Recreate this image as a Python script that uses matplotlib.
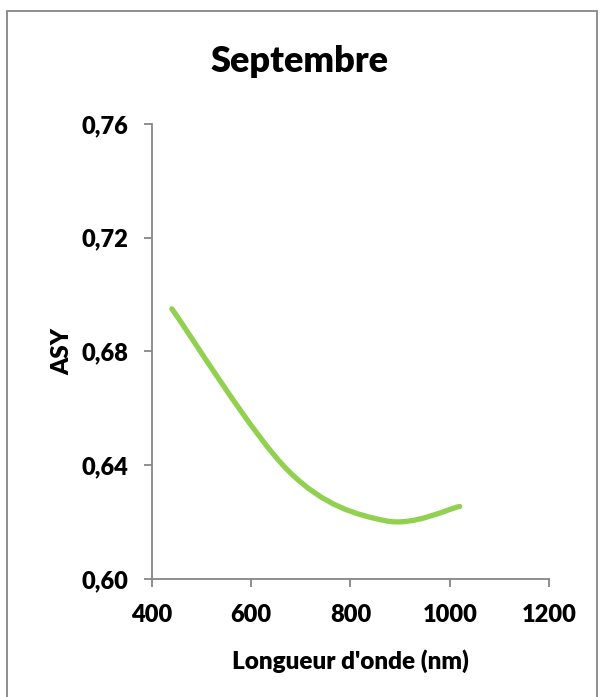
import numpy as np
import matplotlib
matplotlib.use('Agg')
import matplotlib.pyplot as plt
from matplotlib.path import Path
from matplotlib.patches import PathPatch, Rectangle

plt.rcParams['font.family'] = ['Lato', 'DejaVu Sans']
poids = 800  # gras épais, proche du Calibri gras

# données
longueur_onde = [440, 675, 870, 1020]
asy = [0.695, 0.638, 0.6205, 0.6255]

titre = 'Septembre'
x_ticks = [400, 600, 800, 1000, 1200]
x_labels = ['400', '600', '800', '1000', '1200']
y_ticks = [0.60, 0.64, 0.68, 0.72, 0.76]
y_labels = ['0,60', '0,64', '0,68', '0,72', '0,76']

gris = '#868686'
vert = '#92D050'

fig = plt.figure(figsize=(6, 6.97), dpi=100)
ax = fig.add_axes([0.2533, 0.1693, 0.6617, 0.6528])

# courbe lissée façon Excel (Bézier / Catmull-Rom)
pts = np.column_stack([longueur_onde, asy])
n = len(pts)
verts = [tuple(pts[0])]
codes = [Path.MOVETO]
for i in range(n - 1):
    p0 = pts[max(i - 1, 0)]
    p1 = pts[i]
    p2 = pts[i + 1]
    p3 = pts[min(i + 2, n - 1)]
    c1 = p1 + (p2 - p0) / 6
    c2 = p2 - (p3 - p1) / 6
    verts += [tuple(c1), tuple(c2), tuple(p2)]
    codes += [Path.CURVE4] * 3
ax.add_patch(PathPatch(Path(verts, codes), facecolor='none', edgecolor=vert,
                       lw=3.8, capstyle='round', joinstyle='round'))

ax.set_xlim(400, 1200)
ax.set_ylim(0.60, 0.76)
ax.set_xticks(x_ticks)
ax.set_yticks(y_ticks)
ax.set_xticklabels(x_labels, fontsize=17, fontweight=poids)
ax.set_yticklabels(y_labels, fontsize=17, fontweight=poids)

for s in ['top', 'right']:
    ax.spines[s].set_visible(False)
for s in ['left', 'bottom']:
    ax.spines[s].set_color(gris)
    ax.spines[s].set_linewidth(1.3)
ax.tick_params(direction='out', length=6, width=1.3, color=gris,
               labelcolor='black')
ax.tick_params(axis='x', pad=12)
ax.tick_params(axis='y', pad=11)

ax.set_xlabel("Longueur d'onde (nm)", fontsize=17.5, fontweight=poids, labelpad=17)
ax.set_ylabel('ASY', fontsize=17.5, fontweight=poids, labelpad=6)
fig.text(0.5, 1 - 62 / 697, titre, fontsize=26, fontweight=poids,
         ha='center', va='center')

# cadre du graphique
fig.patches.append(Rectangle((7 / 600, -0.01), 590 / 600, 1 - 11 / 697 + 0.01,
                             transform=fig.transFigure, fill=False,
                             edgecolor=gris, lw=1.3))

fig.savefig('out.png', dpi=100)
